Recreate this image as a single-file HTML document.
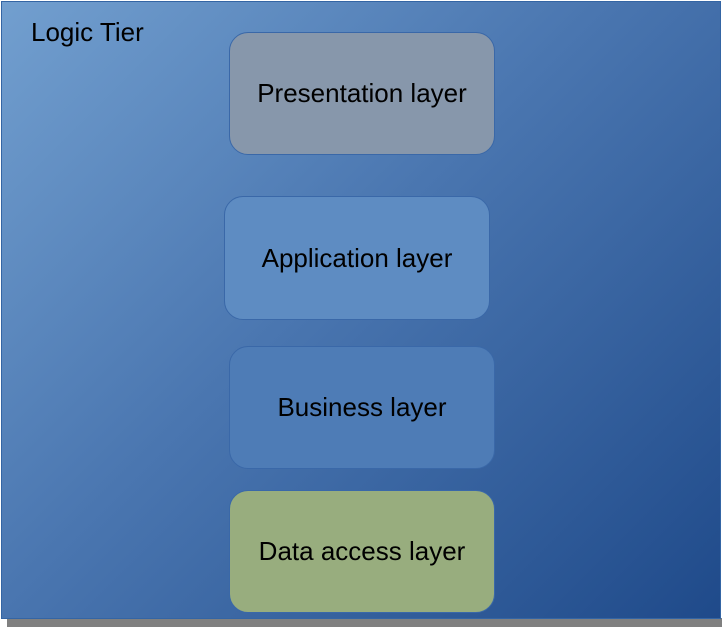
<!DOCTYPE html>
<html><head><meta charset="utf-8"><style>
html,body{margin:0;padding:0;width:722px;height:627px;background:#fff;overflow:hidden;font-family:"Liberation Sans",sans-serif;}
.shadow{position:absolute;left:7px;top:618px;width:715px;height:9px;background:#808080;}
.main{position:absolute;left:1px;top:1px;width:718px;height:616px;border:1px solid #3465a4;background:linear-gradient(135deg,#729fcf 0%,#4a76b0 45%,#1f4a8a 100%);}
.t{position:absolute;font-size:26px;color:#000;white-space:nowrap;}
.box{position:absolute;width:264px;height:121px;border:1px solid #3a68a8;border-radius:19px;display:flex;align-items:center;justify-content:center;font-size:26px;color:#000;box-sizing:border-box;}
</style></head><body>
<div class="shadow"></div>
<div class="main"></div>
<div class="t" style="left:31px;top:17px;">Logic Tier</div>
<div class="box" style="left:229px;top:32px;width:266px;height:123px;background:#8797ab;">Presentation layer</div>
<div class="box" style="left:224px;top:196px;width:266px;height:124px;background:#5e8cc2;">Application layer</div>
<div class="box" style="left:229px;top:346px;width:266px;height:123px;background:#4e7cb6;">Business layer</div>
<div class="box" style="left:229px;top:490px;width:266px;height:123px;background:#98ad7e;">Data access layer</div>
</body></html>
